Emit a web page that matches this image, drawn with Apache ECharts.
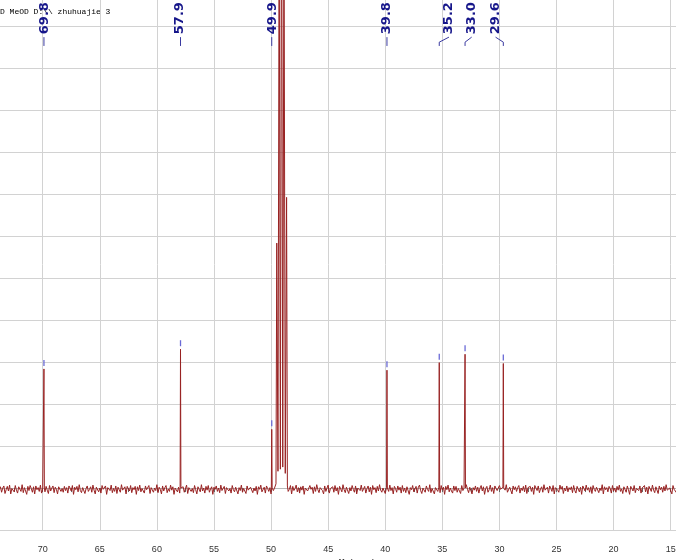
<!DOCTYPE html>
<html><head><meta charset="utf-8">
<script src="https://cdn.jsdelivr.net/npm/echarts@6/dist/echarts.min.js"></script>
<style>html,body{margin:0;padding:0;background:#fff}#c{width:676px;height:560px}</style>
</head><body><div id="c"></div>
<script>
// sampling grid of the baseline trace (ppm) and hand-read noise values
const noiseStart = 73.8;
const noiseStep = 0.1;
const noise = [
-0.03,0.05,-0.08,0.02,0.07,-0.11,-0.02,0.06,-0.05,0.09,-0.12,0.01,0.04,-0.07,0.08,-0.03,-0.10,0.05,0.02,-0.06,
0.10,-0.09,0.03,-0.01,-0.13,0.06,-0.04,0.08,0.01,-0.08,0.05,-0.12,0.07,-0.02,0.03,-0.06,0.09,-0.10,0.00,0.04,
-0.07,0.06,-0.03,-0.11,0.08,-0.05,0.02,0.07,-0.09,0.04,-0.01,-0.12,0.05,0.09,-0.06,0.01,-0.08,0.06,-0.04,0.03,
-0.10,0.07,0.02,-0.05,0.08,-0.13,0.04,-0.02,0.06,-0.07,0.10,-0.04,-0.09,0.03,0.05,-0.11,0.01,0.07,-0.06,-0.01,
0.05,-0.08,0.09,-0.03,-0.12,0.04,0.06,-0.07,0.02,-0.10,0.08,-0.01,-0.05,0.07,-0.13,0.03,0.05,-0.04,0.09,-0.09,
0.01,-0.06,0.07,-0.11,0.04,0.02,-0.08,0.10,-0.03,-0.07,0.05,-0.12,0.06,0.00,-0.05,0.08,-0.09,0.03,-0.02,0.06,
-0.13,0.05,-0.04,0.09,-0.07,0.01,0.04,-0.10,0.07,-0.02,-0.06,0.08,-0.11,0.03,0.06,-0.08,0.02,-0.04,0.10,-0.09,
0.04,-0.01,-0.12,0.07,-0.05,0.03,0.08,-0.09,0.00,-0.06,0.09,-0.03,0.05,-0.13,0.02,0.06,-0.07,0.04,-0.10,0.07,
-0.02,0.05,-0.08,-0.04,0.09,-0.11,0.03,0.06,-0.06,0.01,-0.09,0.08,-0.02,-0.12,0.05,0.03,-0.07,0.10,-0.05,0.02,
-0.10,0.06,-0.03,0.08,-0.08,0.00,0.05,-0.13,0.04,-0.01,0.07,-0.06,0.02,-0.09,0.09,-0.04,-0.07,0.06,-0.11,0.03,
0.07,-0.05,0.01,-0.10,0.08,-0.02,-0.07,0.04,0.06,-0.12,0.03,-0.04,0.09,-0.08,0.01,0.05,-0.11,0.07,-0.03,-0.06,
0.04,0.08,-0.09,0.02,-0.05,0.06,-0.13,0.05,-0.01,0.09,-0.07,-0.03,0.04,-0.10,0.07,0.01,-0.06,0.03,-0.12,0.08,
-0.04,0.02,0.06,-0.08,0.10,-0.05,-0.11,0.04,-0.02,0.07,-0.09,0.03,0.05,-0.06,-0.01,0.08,-0.12,0.06,-0.04,0.01,
0.09,-0.07,0.03,-0.10,0.05,-0.03,0.07,-0.13,0.02,0.06,-0.05,-0.08,0.08,-0.01,0.04,-0.11,0.05,-0.06,0.10,-0.02,
-0.09,0.03,0.06,-0.04,-0.12,0.07,-0.06,0.02,0.09,-0.10,0.01,-0.03,0.05,-0.08,0.08,-0.05,0.03,-0.13,0.06,0.00,
-0.07,0.10,-0.02,-0.09,0.04,0.06,-0.11,0.03,-0.05,0.08,-0.01,-0.08,0.07,-0.12,0.02,0.05,-0.04,0.09,-0.06,-0.03,
0.06,-0.10,0.01,0.07,-0.07,0.04,-0.13,0.08,-0.02,0.03,-0.09,0.06,-0.05,0.10,-0.03,-0.08,0.02,0.05,-0.11,0.07,
-0.01,-0.06,0.09,-0.04,0.03,-0.12,0.06,0.01,-0.08,0.07,-0.03,0.04,-0.10,0.08,-0.06,0.02,-0.09,0.05,0.06,-0.13,
0.03,-0.02,0.08,-0.07,-0.05,0.06,-0.10,0.04,0.09,-0.04,-0.11,0.02,0.05,-0.08,0.07,-0.01,-0.06,0.10,-0.09,0.01,
0.05,-0.12,0.03,0.07,-0.06,0.00,-0.09,0.08,-0.03,0.04,-0.13,0.06,-0.02,0.09,-0.07,0.02,-0.05,-0.10,0.07,-0.04,
0.06,-0.08,0.01,0.05,-0.11,0.08,-0.04,0.02,-0.07,0.10,-0.01,-0.09,0.04,0.06,-0.12,0.03,-0.03,0.07,-0.06,0.04,
-0.10,0.02,0.08,-0.05,0.05,-0.13,0.01,0.06,-0.08,-0.02,0.09,-0.06,0.03,-0.11,0.07,0.04,-0.04,-0.07,0.08,-0.01,
0.02,-0.09,0.06,-0.03,0.10,-0.08,-0.05,0.04,0.01,-0.12,0.07,-0.02,0.05,-0.06,0.03,0.08,-0.10,0.02,-0.04,0.06,
-0.07,0.09,-0.11,0.03,-0.01,0.06,-0.06,0.04,-0.13,0.08,0.02,-0.04,0.07,-0.09,0.00,0.05,-0.08,0.10,-0.03,-0.05,
0.04,-0.10,0.07,0.01,-0.06,0.08,-0.12,0.03,0.05,-0.03,-0.08,0.09,-0.01,0.06,-0.11,0.02,-0.05,0.07,-0.07,0.03,
-0.02,0.05,-0.09,0.08,-0.04,-0.10,0.06,0.02,-0.07,0.04,-0.13,0.07,0.01,-0.05,0.09,-0.03,0.03,-0.08,0.05,-0.11,
0.08,-0.01,-0.06,0.04,0.07,-0.09,0.02,-0.04,0.10,-0.12,0.05,-0.02,0.03,-0.07,0.06,0.01,-0.10,0.08,-0.05,0.02,
-0.08,0.06,-0.03,0.09,-0.06,0.00,-0.11,0.05,0.04,-0.08,0.07,-0.02,-0.13,0.06,0.03,-0.05,0.08,-0.09,0.01,0.05,
-0.04,0.07,-0.10,0.02,-0.01,0.08,-0.07,0.04,-0.12,0.06,0.03,-0.06,0.09,-0.03,-0.09,0.05,0.01,-0.11,0.07,-0.02,
0.04,-0.08,0.06,-0.05,0.10,-0.03,-0.07,0.02,0.05,-0.12,0.08,-0.01,0.03,-0.09,0.07,-0.04,0.02,-0.06,0.09,-0.07
];
// picked peaks
const peakPpm    = [69.89, 57.93, 49.94, 39.85, 35.27, 33.01, 29.66];
const peakHeight = [2.84, 3.31, 1.40, 2.81, 2.99, 3.19, 2.97];
const peakLabels = ['69.8', '57.9', '49.9', '39.8', '35.2', '33.0', '29.6'];
const labelPpm   = [69.84, 57.98, 49.83, 39.87, 34.42, 32.43, 30.34];
// MeOD solvent multiplet lines and valleys
const solventPpm    = [49.50, 49.29, 49.08, 48.87, 48.64];
const solventHeight = [5.84, 14, 16, 14, 6.93];
const valleyPpm     = [49.57, 49.395, 49.185, 48.975, 48.755, 48.57];
const valleyHeight  = [0.10, 0.40, 0.45, 0.50, 0.35, 0.05];
const headerText = 'D MeOD D:\\\\ zhuhuajie 3';
const axisTitle = 'f1 (ppm)';

// build trace
let pts = [];
noise.forEach((v, i) => {
  const x = +(noiseStart - i * noiseStep).toFixed(3);
  if (x > 48.55 && x < 49.6) return;
  if (peakPpm.some(p => Math.abs(p - x) < 0.05)) return;
  pts.push([x, v - 0.02]);
});
peakPpm.forEach((p, i) => {
  pts.push([p + 0.035, 0.02]);
  pts.push([p, peakHeight[i]]);
  pts.push([p - 0.035, 0.0]);
});
solventPpm.forEach((p, i) => pts.push([p, solventHeight[i]]));
valleyPpm.forEach((p, i) => pts.push([p, valleyHeight[i]]));
pts.sort((a, b) => b[0] - a[0]);

const labelData = peakPpm.map((p, i) => [p, peakHeight[i], labelPpm[i], i]);

const chart = echarts.init(document.getElementById('c'), null, {renderer: 'canvas'});
chart.setOption({
  animation: false,
  backgroundColor: '#fff',
  grid: {left: -14.4, right: -51.8, top: -15.3, bottom: 30, containLabel: false, outerBoundsMode: 'none'},
  xAxis: {
    type: 'value', inverse: true, min: 10, max: 75, interval: 5, offset: 4,
    axisLine: {show: true, lineStyle: {color: '#b8b8b8', width: 1}},
    axisTick: {show: true, length: 4, lineStyle: {color: '#666'}},
    minorTick: {show: true, splitNumber: 2, length: 4, lineStyle: {color: '#666'}},
    axisLabel: {fontSize: 9, color: '#333', fontFamily: 'Liberation Sans', margin: 11},
    splitLine: {show: true, lineStyle: {color: '#d2d2d2', width: 1}},
    name: axisTitle, nameLocation: 'middle', nameGap: 21,
    nameTextStyle: {fontSize: 10, color: '#333', fontFamily: 'Liberation Sans'}
  },
  yAxis: {
    type: 'value', min: -1, max: 12, interval: 1,
    axisLine: {show: false}, axisTick: {show: false}, axisLabel: {show: false},
    splitLine: {show: true, lineStyle: {color: '#d2d2d2', width: 1}}
  },
  graphic: [{
    type: 'text', left: 0, top: 8,
    style: {text: headerText, font: '8px "Liberation Mono"', fill: '#000'}
  }],
  series: [{
    type: 'line', data: pts, showSymbol: false, symbol: 'none',
    lineStyle: {color: '#982222', width: 1}, z: 3
  }, {
    type: 'custom', data: labelData, encode: {x: 0, y: 1}, z: 5, clip: false,
    renderItem: function (params, api) {
      const pk = api.coord([api.value(0), api.value(1)]);
      const lx = api.coord([api.value(2), 0])[0];
      const idx = api.value(3);
      const yText = api.coord([0, 10.82])[1];
      const yLTop = api.coord([0, 10.75])[1];
      const yBend = api.coord([0, 10.63])[1];
      const yLBot = api.coord([0, 10.54])[1];
      const children = [];
      children.push({type: 'line', shape: {x1: pk[0], y1: pk[1] - 9, x2: pk[0], y2: pk[1] - 3},
        style: {stroke: '#6a6ad6', lineWidth: 1.3}});
      if (Math.abs(lx - pk[0]) < 2) {
        children.push({type: 'line', shape: {x1: pk[0], y1: yLTop, x2: pk[0], y2: yLBot},
          style: {stroke: '#3a3aa0', lineWidth: 1}});
      } else {
        children.push({type: 'polyline', shape: {points: [[lx, yLTop], [pk[0], yBend], [pk[0], yLBot]]},
          style: {stroke: '#3a3aa0', lineWidth: 1, fill: null}});
      }
      children.push({type: 'text', x: lx, y: yText, rotation: Math.PI / 2,
        style: {text: peakLabels[idx], fill: '#16168a', font: 'bold 13px "DejaVu Sans"',
          align: 'left', verticalAlign: 'middle'}});
      return {type: 'group', children: children};
    }
  }]
});
</script>
</body></html>
